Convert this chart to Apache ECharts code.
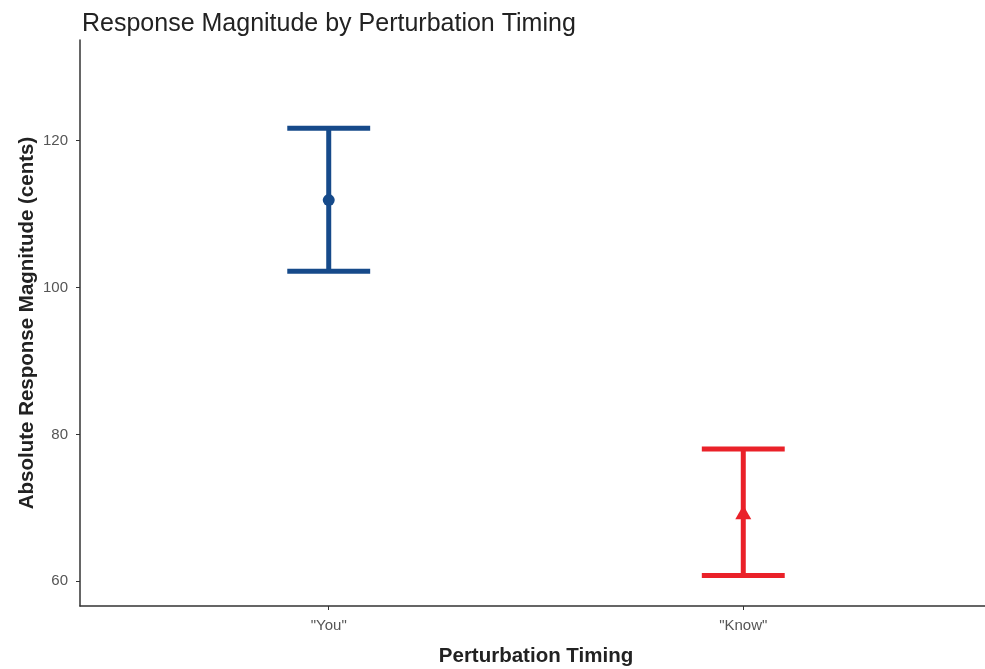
<!DOCTYPE html>
<html>
<head>
<meta charset="utf-8">
<script src="https://cdn.jsdelivr.net/npm/echarts@6/dist/echarts.min.js"></script>
<style>
  html, body { margin: 0; padding: 0; background: #ffffff; }
  #chart { width: 985px; height: 669px; }
</style>
</head>
<body>
<div id="chart"></div>
<script>
// Perturbation timing conditions (x positions 1 and 2)
const categories = ['"You"', '"Know"'];
const meanValues = [111.9, 69.4];
const upperValues = [121.7, 78.0];
const lowerValues = [102.2, 60.8];
const yTicks = [60, 80, 100, 120];
const colors = ['#164a8a', '#ea2129'];
const symbols = ['circle', 'triangle'];

const capHalf = 0.1; // half width of error bar caps, in x units
const font = 'Liberation Sans, Arial, sans-serif';

const chart = echarts.init(document.getElementById('chart'));

const errorData = categories.map((c, i) => [i + 1, lowerValues[i], upperValues[i]]);
const pointData = categories.map((c, i) => ({
  value: [i + 1, meanValues[i]],
  symbol: symbols[i],
  symbolSize: i === 0 ? 12 : [16, 14],
  itemStyle: { color: colors[i], opacity: 1 }
}));

const option = {
  backgroundColor: '#ffffff',
  animation: false,
  title: {
    text: 'Response Magnitude by Perturbation Timing',
    left: 77,
    top: 7,
    textStyle: {
      fontFamily: font,
      fontSize: 25,
      fontWeight: 'normal',
      color: '#222222'
    }
  },
  grid: {
    left: 80, top: 40, width: 912, height: 566,
    containLabel: false,
    outerBoundsMode: 'none'
  },
  xAxis: {
    type: 'value',
    min: 0.4,
    max: 2.6,
    name: 'Perturbation Timing',
    nameLocation: 'middle',
    nameGap: 40,
    nameTextStyle: {
      fontFamily: font,
      fontSize: 20.5,
      fontWeight: 'bold',
      color: '#222222'
    },
    axisLine: { show: true, onZero: false, lineStyle: { color: '#333333', width: 1.5 } },
    axisTick: { show: true, customValues: [1, 2], length: 4, lineStyle: { color: '#333333' } },
    axisLabel: {
      customValues: [1, 2],
      formatter: v => categories[Math.round(v) - 1] || '',
      fontFamily: font,
      fontSize: 15,
      color: '#555555',
      margin: 12
    },
    splitLine: { show: false }
  },
  yAxis: {
    type: 'value',
    min: 56.64,
    max: 133.7,
    name: 'Absolute Response Magnitude (cents)',
    nameLocation: 'middle',
    nameGap: 42,
    nameMoveOverlap: false,
    nameTextStyle: {
      fontFamily: font,
      fontSize: 20.5,
      fontWeight: 'bold',
      color: '#222222'
    },
    axisLine: { show: true, onZero: false, lineStyle: { color: '#333333', width: 1.5 } },
    axisTick: { show: true, customValues: yTicks, length: 4, lineStyle: { color: '#333333' } },
    axisLabel: {
      customValues: yTicks,
      fontFamily: font,
      fontSize: 15,
      color: '#555555',
      margin: 12
    },
    splitLine: { show: false }
  },
  series: [
    {
      type: 'custom',
      data: errorData,
      renderItem: function (params, api) {
        const x = api.value(0);
        const lo = api.value(1);
        const hi = api.value(2);
        const pLo = api.coord([x, lo]);
        const pHi = api.coord([x, hi]);
        const pLoL = api.coord([x - capHalf, lo]);
        const pLoR = api.coord([x + capHalf, lo]);
        const pHiL = api.coord([x - capHalf, hi]);
        const pHiR = api.coord([x + capHalf, hi]);
        const style = { stroke: colors[params.dataIndex], lineWidth: 5, fill: null };
        return {
          type: 'group',
          children: [
            { type: 'line', shape: { x1: pLo[0], y1: pLo[1], x2: pHi[0], y2: pHi[1] }, style: style },
            { type: 'line', shape: { x1: pLoL[0], y1: pLoL[1], x2: pLoR[0], y2: pLoR[1] }, style: style },
            { type: 'line', shape: { x1: pHiL[0], y1: pHiL[1], x2: pHiR[0], y2: pHiR[1] }, style: style }
          ]
        };
      },
      z: 2
    },
    {
      type: 'scatter',
      data: pointData,
      z: 3
    }
  ]
};

chart.setOption(option);
</script>
</body>
</html>
